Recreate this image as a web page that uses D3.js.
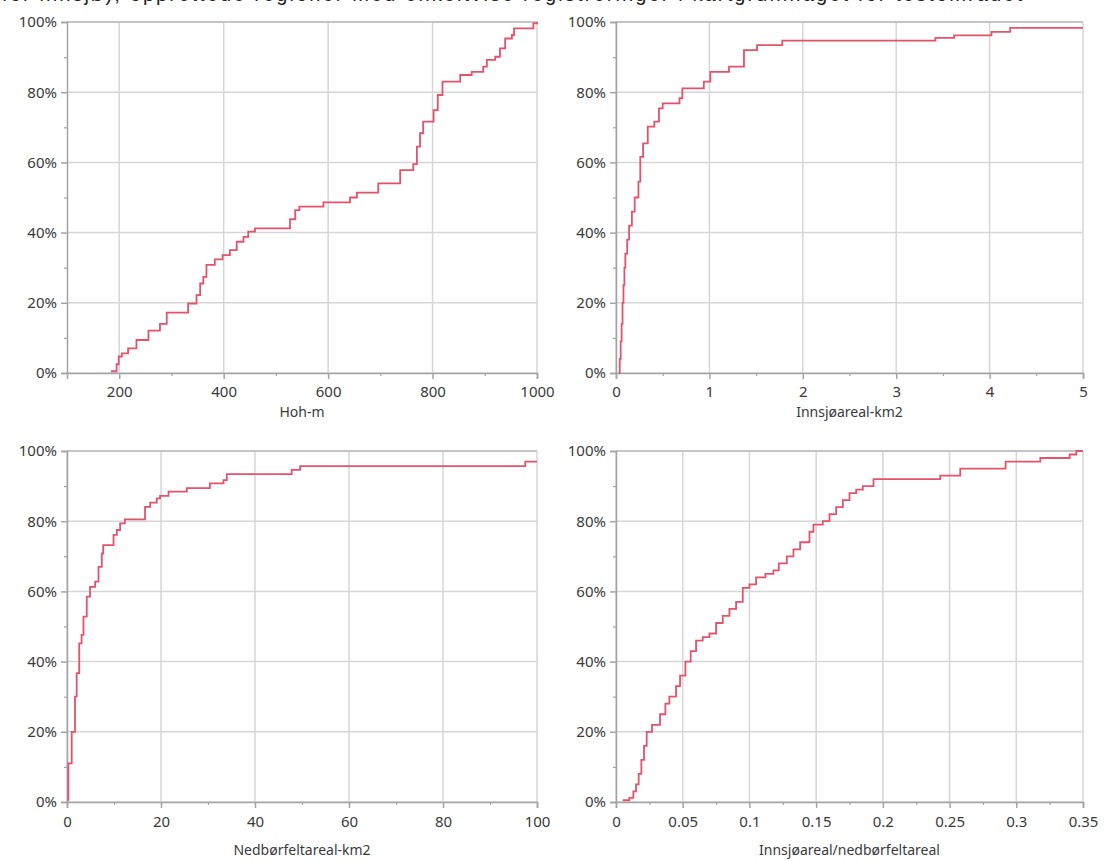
<!DOCTYPE html>
<html><head><meta charset="utf-8">
<script src="https://cdn.jsdelivr.net/npm/d3@7"></script>
<style>
html,body{margin:0;padding:0;background:#fff;overflow:hidden;}
svg{display:block;}
</style></head>
<body>
<svg id="c" width="1105" height="861"></svg>
<script>
// ---------- DATA ----------
const headerText = "for innsjø), opprettede regioner med enkeltvise registreringer i kartgrunnlaget for testområdet";

const yTicks = [0, 20, 40, 60, 80, 100];
const yMinorTicks = [10, 30, 50, 70, 90];

// Panel 1: Hoh-m
const hohTicks = [200, 400, 600, 800, 1000];
const hohMinor = [300, 500, 700, 900];
const hohX = [184,195,199,205,217,233,256,278,291,332,348,355,361,367,383,398,412,425,438,447,460,527,537,545,591,642,655,696,738,763,770,776,782,802,810,819,853,875,897,904,920,929,939,952,956,993,1000];
const hohY = [0.5,2.5,4.7,5.6,7.0,9.4,12.1,14.0,17.2,19.8,22.2,25.5,27.4,30.8,32.4,33.6,35.0,37.4,38.8,40.3,41.2,43.8,46.4,47.4,48.6,50.0,51.4,54.0,57.8,59.5,64.5,68.3,71.6,74.9,79.2,83.0,84.9,85.8,87.3,89.2,90.1,92.5,95.3,96.3,98.2,99.6,100];

// Panel 2: Innsjøareal-km2
const innTicks = [0, 1, 2, 3, 4, 5];
const innMinor = [0.5, 1.5, 2.5, 3.5, 4.5];
const innX = [0.03,0.04,0.05,0.06,0.07,0.08,0.09,0.10,0.12,0.14,0.17,0.20,0.24,0.26,0.29,0.34,0.41,0.46,0.50,0.68,0.71,0.94,1.01,1.21,1.37,1.51,1.78,3.42,3.62,4.02,4.22,5.0];
const innY = [0,4,9,14,20,25,30,34,38,42,46,50,54.5,61.6,65.4,70.2,71.6,75.4,76.8,78.3,81.1,83.0,85.8,87.3,92.0,93.4,94.7,95.5,96.2,97.2,98.3,98.3];

// Panel 3: Nedbørfeltareal-km2
const nedTicks = [0, 20, 40, 60, 80, 100];
const nedMinor = [10, 30, 50, 70, 90];
const nedX = [0.05,0.3,1.0,1.7,2.06,2.6,3.1,3.5,4.2,4.9,6.0,6.7,7.4,7.7,9.9,10.6,11.3,12.3,16.6,17.7,19.1,19.8,21.6,25.5,30.4,33.3,34.0,47.8,49.6,97.5,100];
const nedY = [0.6,11,20,30,36.7,45.2,47.6,52.8,58.5,61.3,62.8,67,70.8,73.2,76.1,77.5,79.4,80.5,84.1,85.3,86.5,87.2,88.4,89.4,90.8,91.7,93.4,94.6,95.7,97.0,97.0];

// Panel 4: Innsjøareal/nedbørfeltareal
const ratTicks = [0, 0.05, 0.1, 0.15, 0.2, 0.25, 0.3, 0.35];
const ratTickLabels = ["0", "0.05", "0.1", "0.15", "0.2", "0.25", "0.3", "0.35"];
const ratMinor = [0.025, 0.075, 0.125, 0.175, 0.225, 0.275, 0.325];
const ratX = [0.005,0.010,0.013,0.015,0.017,0.019,0.021,0.023,0.027,0.033,0.037,0.040,0.045,0.048,0.052,0.056,0.060,0.065,0.070,0.075,0.080,0.085,0.090,0.095,0.100,0.105,0.112,0.118,0.122,0.128,0.133,0.138,0.145,0.148,0.155,0.160,0.165,0.170,0.175,0.180,0.185,0.193,0.243,0.258,0.292,0.318,0.340,0.345,0.35];
const ratY = [0.5,1.2,3,5,8,12,16,20,22,25,28,30,33,36,40,43,46,47,48,51,53,55,57,61,62,64,65,66,68,70,72,74,77,79,80,82,84,86,88,89,90,92,93,95,97,98,99,100,100];

// ---------- DRAW ----------
const svg = d3.select("#c");
const lineColor = "#e4526b";
const gridColor = "#d6d6d6";
const axisColor = "#a3a3a3";
const textColor = "#3a3a3a";
const font = "'Noto Sans', 'Open Sans', sans-serif";

svg.append("text")
  .attr("x", 2).attr("y", 1)
  .attr("font-family", "'Liberation Sans', sans-serif")
  .attr("font-size", 20).attr("fill", "#222")
  .attr("textLength", 1020).attr("lengthAdjust", "spacing")
  .text(headerText);

const panels = [
  {x0: 67, x1: 537, y0: 22, y1: 373, domain: [100, 1000], ticks: hohTicks, labels: hohTicks.map(String), minor: hohMinor, xs: hohX, ys: hohY, title: "Hoh-m", tickY: 393, titleY: 413},
  {x0: 616, x1: 1083, y0: 22, y1: 373, domain: [0, 5], ticks: innTicks, labels: innTicks.map(String), minor: innMinor, xs: innX, ys: innY, title: "Innsjøareal-km2", tickY: 393, titleY: 413},
  {x0: 67, x1: 537, y0: 451, y1: 802, domain: [0, 100], ticks: nedTicks, labels: nedTicks.map(String), minor: nedMinor, xs: nedX, ys: nedY, title: "Nedbørfeltareal-km2", tickY: 823, titleY: 851},
  {x0: 616, x1: 1083, y0: 451, y1: 802, domain: [0, 0.35], ticks: ratTicks, labels: ratTickLabels, minor: ratMinor, xs: ratX, ys: ratY, title: "Innsjøareal/nedbørfeltareal", tickY: 823, titleY: 851}
];

panels.forEach(p => {
  const x = d3.scaleLinear().domain(p.domain).range([p.x0, p.x1]);
  const y = d3.scaleLinear().domain([0, 100]).range([p.y1, p.y0]);
  const g = svg.append("g");

  // gridlines
  g.selectAll(".vg").data(p.ticks).join("line")
    .attr("x1", d => x(d)).attr("x2", d => x(d))
    .attr("y1", p.y0).attr("y2", p.y1)
    .attr("stroke", gridColor).attr("stroke-width", 1.5);
  g.selectAll(".hg").data(yTicks).join("line")
    .attr("x1", p.x0).attr("x2", p.x1)
    .attr("y1", d => y(d)).attr("y2", d => y(d))
    .attr("stroke", gridColor).attr("stroke-width", 1.5);
  g.append("line").attr("x1", p.x0).attr("x2", p.x1).attr("y1", p.y0).attr("y2", p.y0)
    .attr("stroke", "#bdbdbd").attr("stroke-width", 1.5);

  // axes via d3
  const yAxis = d3.axisLeft(y).tickValues(yTicks).tickFormat(d => d + "%").tickSize(6).tickPadding(4);
  const ya = g.append("g").attr("transform", `translate(${p.x0},0)`).call(yAxis);
  ya.select(".domain").attr("stroke", axisColor).attr("stroke-width", 1.5);
  ya.selectAll(".tick line").attr("stroke", axisColor).attr("stroke-width", 1.5);
  ya.selectAll(".tick text").attr("fill", textColor).attr("font-family", font).attr("font-size", 15);

  const yMin = d3.axisLeft(y).tickValues(yMinorTicks).tickFormat("").tickSize(3);
  const ym = g.append("g").attr("transform", `translate(${p.x0},0)`).call(yMin);
  ym.select(".domain").remove();
  ym.selectAll(".tick line").attr("stroke", axisColor).attr("stroke-width", 1.2);

  const xAxis = d3.axisBottom(x).tickValues(p.ticks).tickFormat((d, i) => p.labels[i]).tickSize(6).tickPadding(4);
  const xa = g.append("g").attr("transform", `translate(0,${p.y1})`).call(xAxis);
  xa.select(".domain").attr("stroke", axisColor).attr("stroke-width", 1.5);
  xa.selectAll(".tick line").attr("stroke", axisColor).attr("stroke-width", 1.5);
  xa.selectAll(".tick text").attr("fill", textColor).attr("font-family", font).attr("font-size", 15)
    .attr("y", null).attr("dy", null)
    .attr("transform", `translate(0,${p.tickY - p.y1})`)
    .attr("dominant-baseline", "middle");

  const xMin = d3.axisBottom(x).tickValues(p.minor).tickFormat("").tickSize(3);
  const xm = g.append("g").attr("transform", `translate(0,${p.y1})`).call(xMin);
  xm.select(".domain").remove();
  xm.selectAll(".tick line").attr("stroke", axisColor).attr("stroke-width", 1.2);

  // axis title
  g.append("text")
    .attr("x", (p.x0 + p.x1) / 2).attr("y", p.titleY)
    .attr("text-anchor", "middle").attr("dominant-baseline", "middle")
    .attr("fill", textColor).attr("font-family", font).attr("font-size", 14)
    .text(p.title);

  // step line
  const pts = p.xs.map((v, i) => [v, p.ys[i]]);
  const line = d3.line().x(d => x(d[0])).y(d => y(d[1])).curve(d3.curveStepAfter);
  g.append("path").datum(pts)
    .attr("d", line)
    .attr("fill", "none").attr("stroke", lineColor).attr("stroke-width", 1.8)
    .attr("stroke-linejoin", "miter");
});
</script>
</body></html>
